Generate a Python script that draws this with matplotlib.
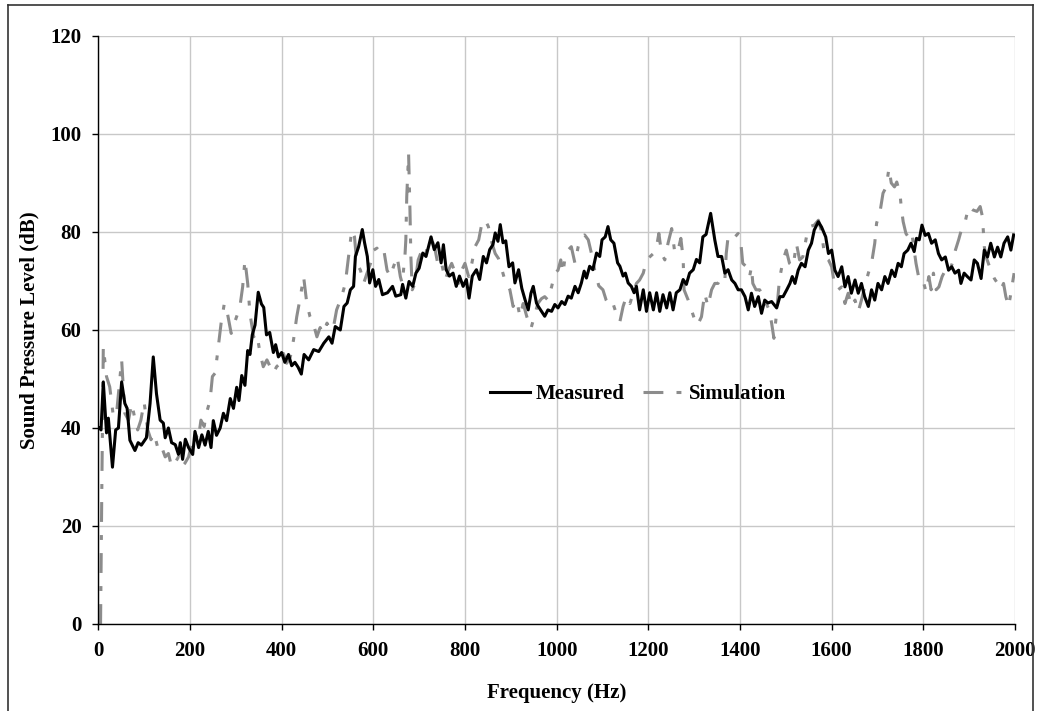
# Measured vs simulated sound pressure level spectrum (0-2000 Hz)
import matplotlib
matplotlib.use("Agg")
import matplotlib.pyplot as plt
from matplotlib.lines import Line2D

plt.rcParams["font.family"] = ["Liberation Serif", "DejaVu Serif"]
plt.rcParams["font.weight"] = "bold"

# ── Data ──────────────────────────────────────────────────────────────────────
freq_meas = [3, 6, 11, 18, 22, 31, 38, 44, 51, 58, 63, 69, 80, 87, 94, 105, 113, 120, 127, 135,
             142, 146, 153, 160, 168, 175, 179, 184, 190, 197, 206, 211, 219, 226, 233, 240, 246,
             251, 258, 266, 273, 280, 288, 295, 302, 307, 313, 320, 326, 331, 336, 342, 349, 356,
             361, 367, 374, 382, 387, 393, 400, 407, 415, 422, 429, 436, 443, 449, 459, 470, 481,
             492, 503, 510, 517, 528, 536, 543, 550, 557, 561, 568, 576, 581, 587, 592, 599, 605,
             612, 620, 631, 642, 649, 660, 664, 671, 678, 686, 693, 700, 708, 715, 726, 733, 741,
             748, 753, 759, 766, 774, 781, 788, 796, 803, 809, 816, 825, 832, 840, 847, 854, 861,
             866, 872, 877, 883, 889, 896, 904, 909, 917, 924, 931, 938, 944, 949, 956, 960, 967,
             974, 981, 989, 996, 1003, 1011, 1018, 1025, 1032, 1040, 1047, 1054, 1060, 1065, 1072,
             1079, 1087, 1094, 1099, 1106, 1112, 1118, 1125, 1133, 1138, 1145, 1150, 1156, 1163,
             1169, 1174, 1181, 1189, 1196, 1203, 1211, 1218, 1225, 1232, 1240, 1247, 1254, 1261,
             1269, 1276, 1283, 1290, 1298, 1305, 1312, 1319, 1326, 1336, 1345, 1352, 1360, 1367,
             1374, 1382, 1389, 1396, 1403, 1411, 1418, 1425, 1432, 1440, 1447, 1454, 1461, 1469,
             1480, 1487, 1494, 1502, 1509, 1514, 1520, 1527, 1534, 1542, 1549, 1556, 1562, 1571,
             1578, 1587, 1593, 1600, 1607, 1614, 1622, 1629, 1636, 1643, 1651, 1658, 1665, 1672,
             1680, 1687, 1694, 1701, 1709, 1716, 1723, 1731, 1738, 1745, 1752, 1758, 1766, 1773,
             1780, 1785, 1791, 1797, 1804, 1811, 1818, 1826, 1833, 1840, 1848, 1855, 1862, 1869,
             1877, 1882, 1889, 1896, 1904, 1911, 1918, 1926, 1933, 1940, 1947, 1955, 1962, 1969,
             1976, 1984, 1991, 1997]
spl_meas = [40, 39.6, 49.4, 39, 42, 32, 39.6, 40, 49.4, 45, 44, 37.5, 35.4, 37, 36.5, 38, 45, 54.5, 47, 41.6,
            41, 38, 40, 37, 36.6, 34.6, 37, 33.6, 37.7, 36, 34.6, 39.3, 36, 38.6, 36.5, 39.3, 36,
            41.5, 38.5, 40, 43, 41.5, 46, 44, 48.3, 45.6, 50.7, 48.7, 55.8, 55, 59, 61, 67.7, 65.3,
            64.6, 59, 59.5, 55.4, 57, 54.5, 55.4, 53.4, 55, 52.7, 53.4, 52.4, 51, 55, 53.9, 56, 55.6,
            57.3, 58.6, 57.3, 60.7, 60, 64.8, 65.5, 68.2, 68.9, 75, 77, 80.5, 77.8, 75, 69.6, 72.3, 68.9,
            70.3, 67.2, 67.6, 68.9, 66.9, 67.2, 69.3, 66.5, 69.9, 68.9, 71.6, 72.6, 75.7, 75, 79, 76.4, 77.8,
            73.7, 77.4, 72.3, 71, 71.6, 68.9, 71, 68.9, 70.3, 66.5, 71, 72.3, 70.3, 75, 73.7, 76.4, 77.4,
            79.8, 78.1, 81.5, 77.8, 78.2, 72.9, 73.7, 69.6, 72.3, 68.5, 66.2, 64.1, 67.5, 68.9, 65.5, 64.8, 63.8,
            62.8, 64.1, 63.8, 65.2, 64.5, 65.8, 65.2, 66.9, 66.5, 68.9, 67.6, 69.6, 72, 70.6, 73,
            72.3, 75.7, 75, 78.4, 79, 81.1, 78.4, 77.7, 73.7, 73, 71, 71.6, 69.6, 68.9,
            67.6, 68.9, 64.1, 68.2, 63.8, 67.6, 64.1, 67.6, 63.8, 67.2, 64.5, 67.6, 64.1, 67.6,
            68.2, 70.3, 69.3, 71.6, 72.3, 74.4, 73.7, 79, 79.5, 83.8, 78.4, 75, 75, 71.6,
            72.3, 70.2, 69.5, 68.2, 68.2, 66.8, 64.1, 67.5, 64.8, 66.8, 63.4, 66.1, 65.5, 65.8,
            64.5, 66.8, 66.8, 68.2, 69.5, 70.9, 69.5, 72.2, 73.6, 72.9, 76.3, 77.7, 80.4, 82.1,
            81, 79, 75.6, 76.3, 72.2, 70.9, 72.9, 68.8, 70.9, 67.5, 70.2, 67.5, 69.5, 66.8,
            64.8, 68.2, 66.1, 69.5, 68.2, 70.9, 69.5, 72.2, 70.9, 73.6, 72.9, 75.6, 76.3, 77.7,
            76, 78.7, 78.4, 81.4, 79.3, 79.7, 77.7, 78.4, 75.6, 74.3, 74.9, 72.2, 72.9, 71.6,
            72.2, 69.5, 71.6, 70.9, 70.2, 74.3, 73.6, 70.5, 76.3, 74.9, 77.7, 74.9, 76.9, 74.9,
            77.7, 79, 76.3, 79.4]

freq_sim = [5, 8, 11, 18, 25, 33, 40, 47, 51, 58, 66, 73, 79, 86, 93, 100, 108, 115, 122, 131, 138,
            146, 153, 160, 167, 175, 182, 189, 197, 204, 211, 218, 224, 231, 236, 244, 249, 255,
            262, 268, 275, 282, 290, 297, 304, 310, 315, 320, 326, 331, 339, 346, 353, 360, 368,
            375, 382, 389, 397, 404, 411, 419, 426, 433, 441, 448, 455, 462, 469, 477, 484, 491,
            499, 506, 513, 520, 531, 539, 546, 553, 559, 564, 572, 579, 586, 594, 601, 608, 615,
            623, 630, 637, 644, 652, 659, 663, 669, 671, 673, 677, 680, 682, 685, 691, 698, 706,
            713, 720, 728, 735, 742, 749, 757, 764, 771, 779, 786, 793, 800, 808, 815, 822, 830,
            837, 844, 851, 859, 866, 873, 881, 887, 898, 905, 913, 920, 927, 935, 944, 951, 959,
            967, 974, 981, 989, 996, 1003, 1009, 1014, 1018, 1025, 1032, 1040, 1047, 1054, 1061,
            1069, 1076, 1083, 1092, 1101, 1108, 1116, 1123, 1130, 1138, 1145, 1152, 1160, 1167,
            1174, 1181, 1189, 1196, 1203, 1211, 1218, 1223, 1229, 1236, 1243, 1251, 1258, 1265,
            1271, 1276, 1278, 1287, 1294, 1305, 1310, 1316, 1323, 1330, 1338, 1345, 1352, 1360,
            1367, 1370, 1374, 1381, 1389, 1396, 1402, 1406, 1414, 1421, 1425, 1428, 1435, 1443,
            1450, 1457, 1464, 1469, 1474, 1479, 1486, 1494, 1501, 1508, 1516, 1523, 1530, 1537,
            1545, 1552, 1562, 1571, 1577, 1582, 1585, 1593, 1600, 1607, 1614, 1622, 1629, 1636,
            1643, 1651, 1658, 1665, 1672, 1680, 1687, 1694, 1698, 1705, 1712, 1719, 1725, 1730,
            1737, 1742, 1749, 1752, 1756, 1762, 1769, 1775, 1780, 1784, 1791, 1799, 1806, 1812,
            1817, 1822, 1828, 1834, 1841, 1848, 1856, 1863, 1870, 1877, 1885, 1892, 1899, 1908,
            1917, 1924, 1929, 1933, 1937, 1946, 1955, 1962, 1969, 1975, 1980, 1986, 1991, 1998]
spl_sim = [0, 30, 56.6, 50.5, 48.4, 42.3, 43, 49.8, 53.9, 43, 41.6, 45, 42.3, 39.6, 41.6, 45.3, 39.6, 37.6, 38.9, 35.5, 36.2,
           34.1, 34.8, 32.1, 32.8, 34.1, 32.1, 32.8, 34.1, 36.9, 38.9, 37.6, 41.6, 40.3, 43, 45.7, 50.5, 51.2,
           56.6, 61.4, 65.4, 63.3, 59.3, 61.4, 63.3, 65.4, 68.8, 74.3, 69.5, 63.3, 58.6, 59.3, 55.2, 52.5, 53.9,
           52.5, 51.2, 52.5, 53.2, 55.2, 53.2, 54.5, 58, 62.7, 66.8, 70.9, 65.4, 62.7, 61.4, 58.6, 60.5, 59.3,
           61.4, 60, 60.5, 64.1, 66.8, 69.5, 75, 80.4, 79, 73.6, 72.2, 69.5, 71.5, 73.6, 76.3, 76.7, 75.6,
           76.3, 72.2, 70.9, 72.9, 75, 70.9, 69.5, 75, 78.4, 87.2, 96, 84.5, 75, 68.2, 69.5, 74.3, 76.3,
           75, 77.7, 78.4, 76.3, 72.9, 73.6, 70.2, 72.2, 73.6, 71.6, 69.5, 72.2, 73.6, 70.9, 73.6, 77, 78.4,
           81.8, 82.5, 81.1, 77.7, 75.6, 74.6, 72.2, 70.2, 68.2, 64.8, 66.1, 62.7, 65.4, 62.7, 60.3, 62.7, 65.4,
           66.4, 66.8, 66.1, 68.8, 71.6, 72.2, 74.3, 71.6, 74.6, 76.3, 77, 73.6, 77, 79, 79.4,
           78.4, 75.6, 72.2, 69, 68.2, 66.1, 64.8, 65.4, 63.4, 61.7, 64.8, 66.8, 65.4, 67.5,
           69.5, 70.2, 71.6, 74.3, 74.9, 75.6, 77, 79.7, 75.6, 74.3, 77.7, 80.7, 75.6, 76.3,
           78.7, 74.6, 68.2, 66.1, 64.1, 61, 61.5, 62.7, 67.5, 64.8, 68.2, 69.5, 69.5, 70.9,
           70.2, 75.6, 79, 78.4, 79, 79.7, 77.7, 73.6, 72.9, 70.9, 72.9, 69.5, 68.2, 68.2,
           66.8, 65.4, 64.1, 61.4, 58.3, 62.7, 70.2, 74.3, 76.3, 73.6, 72.9, 77.7, 74.3, 74.9,
           79, 81.1, 81.4, 82.4, 80.4, 77, 75, 74.3, 72.9, 68.8, 68.2, 68.8, 65.4, 67.5,
           64.8, 66.1, 63.7, 66.1, 68.8, 71.6, 73.6, 77.7, 81.8, 83.8, 87.9, 89.2, 93, 90,
           89.2, 90.2, 87.9, 84.9, 82.1, 79.7, 78.7, 79.7, 76.3, 73.6, 70.2, 70.2, 67.8, 70.9,
           68.2, 71.6, 68.2, 68.8, 70.9, 72.2, 71.6, 73.6, 76.3, 78.4, 81.1, 82.4, 85.2, 84.5,
           84.2, 85.2, 83.1, 77, 74.9, 72.5, 70.5, 69.5, 68.2, 69.5, 66.8, 64.8, 67.5, 71.6]

X_TICKS = list(range(0, 2001, 200))
Y_TICKS = list(range(0, 121, 20))

# ── Figure ────────────────────────────────────────────────────────────────────
fig = plt.figure(figsize=(10.42, 7.11), dpi=100, facecolor="white")
ax = fig.add_axes([0.0943, 0.1224, 0.8798, 0.827])

ax.plot(freq_meas, spl_meas, color="black", linewidth=2.2, label="Measured", zorder=3)
ax.plot(freq_sim, spl_sim, color="#8c8c8c", linewidth=2.2,
        linestyle=(0, (6.5, 4.3, 1.6, 4.3)), label="Simulation", zorder=2)

ax.set_xlim(0, 2000)
ax.set_ylim(0, 120)
ax.set_xticks(X_TICKS)
ax.set_yticks(Y_TICKS)
ax.grid(True, color="#c8c8c8", linewidth=1.0, zorder=0)
ax.set_axisbelow(True)

for side in ("top", "right"):
    ax.spines[side].set_visible(False)
for side in ("left", "bottom"):
    ax.spines[side].set_color("black")
    ax.spines[side].set_linewidth(1.0)

ax.tick_params(direction="out", length=4, width=1.0, labelsize=15, pad=8)
for lbl in ax.get_xticklabels() + ax.get_yticklabels():
    lbl.set_fontweight("bold")

ax.set_xlabel("Frequency (Hz)", fontsize=15, fontweight="bold", labelpad=16)
ax.set_ylabel("Sound Pressure Level (dB)", fontsize=15, fontweight="bold", labelpad=8)

ax.legend(loc="center", bbox_to_anchor=(0.589, 0.391), ncol=2, frameon=False,
          prop={"size": 15, "weight": "bold"}, handlelength=1.9,
          handletextpad=0.3, columnspacing=0.9)

# ── Outer chart border (Excel-style) ──────────────────────────────────────────
x0, x1 = 8 / 1042, 1033 / 1042
ytop = 1 - 5 / 711
for xs, ys in (([x0, x0], [-0.01, ytop]), ([x0, x1], [ytop, ytop]), ([x1, x1], [ytop, -0.01])):
    fig.add_artist(Line2D(xs, ys, transform=fig.transFigure, color="#333333", linewidth=1.2))

plt.savefig("out.png", dpi=100, facecolor="white")
plt.close()
